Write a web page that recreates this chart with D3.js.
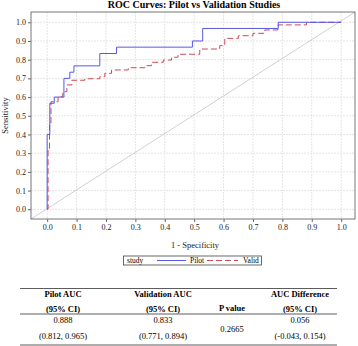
<!DOCTYPE html>
<html>
<head>
<meta charset="utf-8">
<script src="https://cdn.jsdelivr.net/npm/d3@7"></script>
<style>
  body { margin: 0; background: #fff; }
  svg { display: block; font-family: "Liberation Serif", "Times New Roman", serif; }
</style>
</head>
<body>
<div id="chart"></div>
<script>
// ROC curve corners (fpr, tpr), drawn with step-before
const pilotFpr = [0, 0.009, 0.024, 0.057, 0.077, 0.091, 0.179, 0.236, 0.494, 0.529, 0.786, 1.0];
const pilotTpr = [0, 0.400, 0.567, 0.600, 0.700, 0.733, 0.767, 0.833, 0.867, 0.900, 0.967, 1.0];

const validFpr = [0, 0.003, 0.008, 0.013, 0.037, 0.053, 0.067, 0.084, 0.128, 0.179, 0.196, 0.219, 0.276, 0.332, 0.355, 0.395, 0.423, 0.445, 0.519, 0.587, 0.604, 0.65, 0.70, 0.74, 0.785, 0.882, 1.0];
const validTpr = [0, 0, 0.32, 0.46, 0.575, 0.602, 0.629, 0.665, 0.69, 0.698, 0.709, 0.727, 0.745, 0.757, 0.768, 0.786, 0.798, 0.813, 0.829, 0.857, 0.875, 0.914, 0.928, 0.941, 0.959, 0.986, 1.0];

const tickValues = [0, 0.1, 0.2, 0.3, 0.4, 0.5, 0.6, 0.7, 0.8, 0.9, 1.0];

const tableHeaders = [["Pilot AUC", "(95% CI)"], ["Validation AUC", "(95% CI)"], ["P value"], ["AUC Difference", "(95% CI)"]];
const tableValues = [["0.888", "(0.812, 0.965)"], ["0.833", "(0.771, 0.894)"], ["0.2665"], ["0.056", "(-0.043, 0.154)"]];

const W = 358, H = 346;
const svg = d3.select('#chart').append('svg')
  .attr('width', W)
  .attr('height', H);

// Plot frame
const plotLeft = 31, plotRight = 355, plotTop = 12, plotBottom = 219;
const x = d3.scaleLinear().domain([-0.055, 1.047]).range([plotLeft, plotRight]);
const y = d3.scaleLinear().domain([-0.052, 1.055]).range([plotBottom, plotTop]);

// Title
svg.append('text')
  .attr('x', 194)
  .attr('y', 8)
  .attr('text-anchor', 'middle')
  .style('font-size', '10px')
  .style('font-weight', 'bold')
  .text('ROC Curves: Pilot vs Validation Studies');

// Grid
const grid = svg.append('g');
grid.selectAll('.gx').data(tickValues).enter().append('line')
  .attr('x1', d => x(d)).attr('x2', d => x(d))
  .attr('y1', plotTop).attr('y2', plotBottom)
  .style('stroke', '#e4e4e4')
  .style('stroke-dasharray', '2,1');
grid.selectAll('.gy').data(tickValues).enter().append('line')
  .attr('y1', d => y(d)).attr('y2', d => y(d))
  .attr('x1', plotLeft).attr('x2', plotRight)
  .style('stroke', '#e4e4e4')
  .style('stroke-dasharray', '2,1');

// Axes
const xAxis = svg.append('g')
  .attr('transform', `translate(0,${plotBottom})`)
  .call(d3.axisBottom(x).tickValues(tickValues).tickFormat(d3.format('.1f')).tickSize(3).tickPadding(2));
const yAxis = svg.append('g')
  .attr('transform', `translate(${plotLeft},0)`)
  .call(d3.axisLeft(y).tickValues(tickValues).tickFormat(d3.format('.1f')).tickSize(3).tickPadding(2));
[xAxis, yAxis].forEach(a => {
  a.select('.domain').remove();
  a.selectAll('line').style('stroke', '#666');
  a.selectAll('text')
    .style('font-family', '"Liberation Serif", serif')
    .style('font-size', '8px')
    .style('fill', '#222');
});

// Diagonal reference
svg.append('line')
  .attr('x1', x(-0.055)).attr('y1', y(-0.052))
  .attr('x2', x(1.047)).attr('y2', y(1.055))
  .style('stroke', '#c4c4c4')
  .style('stroke-width', 0.8);

const line = d3.line()
  .x(d => x(d[0]))
  .y(d => y(d[1]))
  .curve(d3.curveStepBefore);

// Valid (red dashed)
svg.append('path')
  .datum(validFpr.map((f, i) => [f, validTpr[i]]))
  .attr('d', line)
  .style('fill', 'none')
  .style('stroke', '#cc4a58')
  .style('stroke-width', 1)
  .style('stroke-dasharray', '6,3');

// Pilot (blue)
svg.append('path')
  .datum(pilotFpr.map((f, i) => [f, pilotTpr[i]]))
  .attr('d', line)
  .style('fill', 'none')
  .style('stroke', '#5757e6')
  .style('stroke-width', 1);

// Frame
svg.append('rect')
  .attr('x', plotLeft).attr('y', plotTop)
  .attr('width', plotRight - plotLeft).attr('height', plotBottom - plotTop)
  .style('fill', 'none')
  .style('stroke', '#777')
  .style('stroke-width', 1);

// Axis labels
svg.append('text')
  .attr('x', 195)
  .attr('y', 248)
  .attr('text-anchor', 'middle')
  .style('font-size', '8.5px')
  .style('fill', '#222')
  .text('1 - Specificity');

svg.append('text')
  .attr('transform', `translate(8,${(plotTop + plotBottom) / 2}) rotate(-90)`)
  .attr('text-anchor', 'middle')
  .style('font-size', '8.5px')
  .style('fill', '#222')
  .text('Sensitivity');

// Legend
const legend = svg.append('g');
legend.append('rect')
  .attr('x', 123.5).attr('y', 256)
  .attr('width', 138).attr('height', 9)
  .style('fill', 'none')
  .style('stroke', '#444')
  .style('stroke-width', 0.8);
legend.append('text')
  .attr('x', 127).attr('y', 263)
  .style('font-size', '7.5px')
  .text('study');
legend.append('line')
  .attr('x1', 157).attr('x2', 186).attr('y1', 260.5).attr('y2', 260.5)
  .style('stroke', '#5757e6');
legend.append('text')
  .attr('x', 190).attr('y', 263)
  .style('font-size', '7.5px')
  .text('Pilot');
legend.append('line')
  .attr('x1', 207).attr('x2', 238).attr('y1', 260.5).attr('y2', 260.5)
  .style('stroke', '#cc4a58')
  .style('stroke-dasharray', '6,3');
legend.append('text')
  .attr('x', 243).attr('y', 263)
  .style('font-size', '7.5px')
  .text('Valid');

// Statistics table
const colX = [63, 163, 232, 300];
const table = svg.append('g');
[288.5, 314, 345].forEach(yy => {
  table.append('line')
    .attr('x1', 20).attr('x2', 337)
    .attr('y1', yy).attr('y2', yy)
    .style('stroke', '#333')
    .style('stroke-width', 0.8);
});
tableHeaders.forEach((h, i) => {
  if (h.length === 2) {
    h.forEach((t, j) => {
      table.append('text')
        .attr('x', colX[i]).attr('y', 297 + j * 14.5)
        .attr('text-anchor', 'middle')
        .style('font-size', '8.5px')
        .style('font-weight', 'bold')
        .text(t);
    });
  } else {
    table.append('text')
      .attr('x', colX[i]).attr('y', 310.5)
      .attr('text-anchor', 'middle')
      .style('font-size', '8.5px')
      .style('font-weight', 'bold')
      .text(h[0]);
  }
});
tableValues.forEach((v, i) => {
  if (v.length === 2) {
    v.forEach((t, j) => {
      table.append('text')
        .attr('x', colX[i]).attr('y', 323 + j * 16)
        .attr('text-anchor', 'middle')
        .style('font-size', '8.5px')
        .text(t);
    });
  } else {
    table.append('text')
      .attr('x', colX[i]).attr('y', 331.5)
      .attr('text-anchor', 'middle')
      .style('font-size', '8.5px')
      .text(v[0]);
  }
});
</script>
</body>
</html>
